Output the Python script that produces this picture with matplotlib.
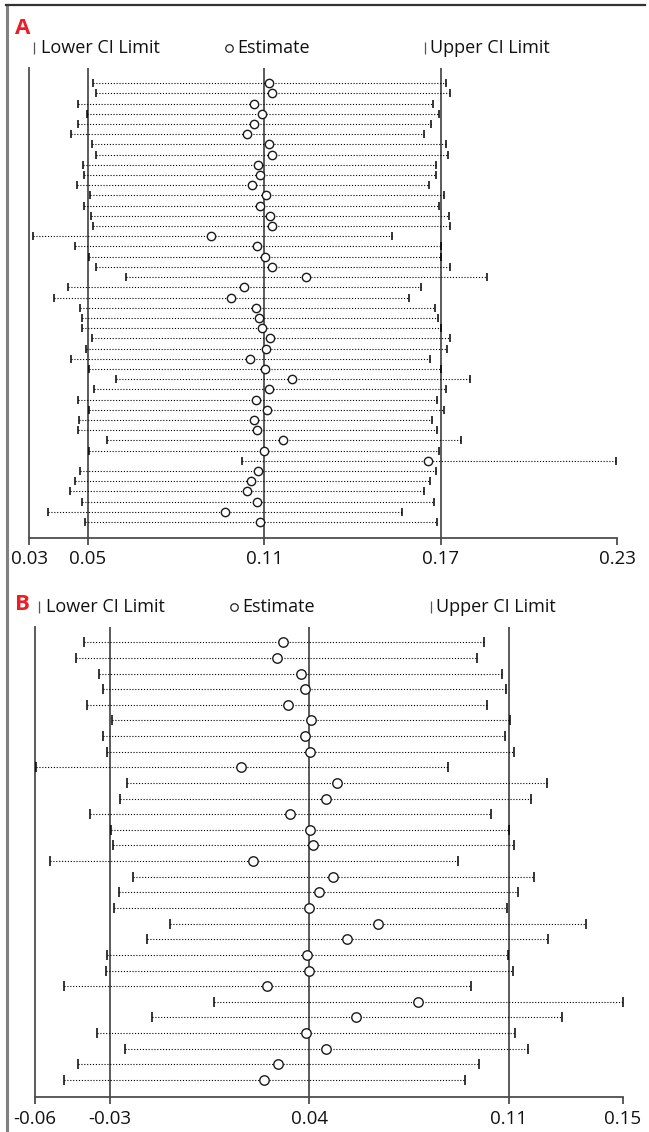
import matplotlib
matplotlib.use("Agg")
import matplotlib.pyplot as plt
from matplotlib.lines import Line2D

plt.rcParams['font.family'] = ['Open Sans', 'DejaVu Sans']

# ---------------- data ----------------
A_lower = [0.0519, 0.0529, 0.0465, 0.0496, 0.0468, 0.0443, 0.0514, 0.0529, 0.0485, 0.0487,
           0.0464, 0.0507, 0.0486, 0.0511, 0.0518, 0.0315, 0.0458, 0.0503, 0.0529, 0.0631,
           0.0433, 0.0384, 0.0475, 0.0479, 0.0480, 0.0514, 0.0493, 0.0443, 0.0504, 0.0595,
           0.0520, 0.0466, 0.0503, 0.0469, 0.0468, 0.0567, 0.0505, 0.1024, 0.0475, 0.0457,
           0.0440, 0.0479, 0.0363, 0.0492]
A_est = [0.1117, 0.1128, 0.1066, 0.1092, 0.1066, 0.1040, 0.1115, 0.1125, 0.1079, 0.1086,
         0.1059, 0.1106, 0.1087, 0.1120, 0.1125, 0.0920, 0.1076, 0.1104, 0.1128, 0.1241,
         0.1030, 0.0987, 0.1073, 0.1082, 0.1092, 0.1121, 0.1106, 0.1052, 0.1104, 0.1195,
         0.1115, 0.1073, 0.1110, 0.1066, 0.1076, 0.1164, 0.1100, 0.1658, 0.1079, 0.1055,
         0.1043, 0.1076, 0.0966, 0.1087]
A_upper = [0.1717, 0.1733, 0.1673, 0.1696, 0.1668, 0.1643, 0.1720, 0.1724, 0.1685, 0.1686,
           0.1659, 0.1713, 0.1694, 0.1727, 0.1733, 0.1535, 0.1703, 0.1703, 0.1733, 0.1859,
           0.1633, 0.1594, 0.1680, 0.1692, 0.1703, 0.1731, 0.1722, 0.1664, 0.1703, 0.1801,
           0.1717, 0.1687, 0.1713, 0.1672, 0.1689, 0.1771, 0.1695, 0.2296, 0.1685, 0.1664,
           0.1643, 0.1678, 0.1570, 0.1689]
A_ticks = [0.03, 0.05, 0.11, 0.17, 0.23]
A_ticklabels = ['0.03', '0.05', '0.11', '0.17', '0.23']
A_reflines = [0.05, 0.11, 0.17]

B_lower = [-0.0390, -0.0419, -0.0339, -0.0326, -0.0379, -0.0293, -0.0326, -0.0312, -0.0558, -0.0240,
           -0.0264, -0.0370, -0.0296, -0.0288, -0.0511, -0.0219, -0.0267, -0.0285, -0.0089, -0.0169,
           -0.0310, -0.0315, -0.0462, 0.0065, -0.0152, -0.0347, -0.0246, -0.0412, -0.0460]
B_est = [0.0308, 0.0285, 0.0369, 0.0383, 0.0323, 0.0406, 0.0385, 0.0401, 0.0158, 0.0496,
         0.0457, 0.0330, 0.0401, 0.0413, 0.0202, 0.0484, 0.0432, 0.0399, 0.0639, 0.0531,
         0.0391, 0.0398, 0.0250, 0.0780, 0.0563, 0.0387, 0.0457, 0.0288, 0.0240]
B_upper = [0.1013, 0.0988, 0.1075, 0.1090, 0.1023, 0.1104, 0.1085, 0.1119, 0.0886, 0.1235,
           0.1177, 0.1036, 0.1101, 0.1116, 0.0921, 0.1187, 0.1133, 0.1093, 0.1371, 0.1237,
           0.1097, 0.1113, 0.0965, 0.1500, 0.1286, 0.1122, 0.1167, 0.0995, 0.0944]
B_ticks = [-0.0563, -0.03, 0.04, 0.11, 0.15]
B_ticklabels = ['-0.06', '-0.03', '0.04', '0.11', '0.15']
B_reflines = [-0.03, 0.04, 0.11]

legend_labels = ['Lower CI Limit', 'Estimate', 'Upper CI Limit']
panel_labels = ['A', 'B']

# ---------------- layout ----------------
W, H = 649, 1132
fig = plt.figure(figsize=(W / 100, H / 100), dpi=100)
fig.patch.set_facecolor('white')

GRAY = '#4d4d4d'


def fx(px):
    return px / W


def fy(py):
    return 1 - py / H


def make_panel(rect_px, lower, est, upper, ticks, ticklabels, reflines,
               ylims, tick_ms, circ_ms):
    l, r, t, b = rect_px
    ax = fig.add_axes([fx(l), fy(b), (r - l) / W, (b - t) / H])
    n = len(est)
    ys = list(range(n))
    ax.set_xlim(ticks[0], ticks[-1])
    ax.set_ylim(ylims[1], ylims[0])
    for x in reflines:
        ax.axvline(x, color=GRAY, lw=1.3, zorder=1)
    ax.hlines(ys, lower, upper, colors='black', linestyles=(0, (1, 1.6)),
              lw=0.8, zorder=2)
    ax.plot(lower, ys, linestyle='none', marker='|', ms=tick_ms, mew=1.1,
            color='black', zorder=3, clip_on=False)
    ax.plot(upper, ys, linestyle='none', marker='|', ms=tick_ms, mew=1.1,
            color='black', zorder=3, clip_on=False)
    ax.plot(est, ys, linestyle='none', marker='o', ms=circ_ms, mfc='white',
            mec='#1a1a1a', mew=1.0, zorder=4, clip_on=False)
    for s in ['top', 'right']:
        ax.spines[s].set_visible(False)
    for s in ['left', 'bottom']:
        ax.spines[s].set_color(GRAY)
        ax.spines[s].set_linewidth(1.3)
    ax.set_yticks([])
    ax.set_xticks(ticks)
    ax.set_xticklabels(ticklabels)
    ax.tick_params(axis='x', direction='out', length=5, width=1.3, color=GRAY,
                   labelsize=13.5, pad=4, labelcolor='#111111')
    ax.set_facecolor('none')
    return ax


# Panel A: rows at y=83.3 + 10.2*i ; axes top 68, bottom 538
spA, y0A = 10.2, 83.3
axA = make_panel((29, 617, 68, 538), A_lower, A_est, A_upper, A_ticks, A_ticklabels,
                 A_reflines, ((68 - y0A) / spA, (538 - y0A) / spA), 6.0, 6.0)

# Panel B: rows at y=642.3 + 15.63*i ; axes top 627, bottom 1097
spB, y0B = 15.63, 642.3
axB = make_panel((35, 623, 627, 1097), B_lower, B_est, B_upper, B_ticks, B_ticklabels,
                 B_reflines, ((627 - y0B) / spB, (1097 - y0B) / spB), 7.5, 6.8)


# ---------------- legends and panel letters ----------------
def legend(y, xbar1, xtxt1, xcirc, xtxt2, xbar2, xtxt3):
    fig.add_artist(Line2D([fx(xbar1)], [fy(y)], marker='|', ms=9, mew=0.9,
                          color='#555555', linestyle='none'))
    fig.text(fx(xtxt1), fy(y), legend_labels[0], fontsize=13, va='center', ha='left',
             color='#111111')
    fig.add_artist(Line2D([fx(xcirc)], [fy(y)], marker='o', ms=5.4, mfc='white',
                          mec='#222222', mew=0.9, linestyle='none'))
    fig.text(fx(xtxt2), fy(y), legend_labels[1], fontsize=13, va='center', ha='left',
             color='#111111')
    fig.add_artist(Line2D([fx(xbar2)], [fy(y)], marker='|', ms=9, mew=0.9,
                          color='#555555', linestyle='none'))
    fig.text(fx(xtxt3), fy(y), legend_labels[2], fontsize=13, va='center', ha='left',
             color='#111111')


legend(48, 34, 41, 229, 237, 425, 430)
legend(607, 39, 46, 234, 242, 431, 436)

fig.text(fx(15), fy(29), panel_labels[0], color='#ee1c25', fontsize=16,
         fontweight='bold', va='center', ha='left')
fig.text(fx(15), fy(605), panel_labels[1], color='#ee1c25', fontsize=16,
         fontweight='bold', va='center', ha='left')

# outer frame (top and left only)
fig.add_artist(Line2D([fx(6.5), fx(6.5)], [0, fy(5)], color='#808080', lw=2.2))
fig.add_artist(Line2D([fx(6), fx(645)], [fy(5), fy(5)], color='#333333', lw=1.6))

fig.savefig('out.png', dpi=100)
